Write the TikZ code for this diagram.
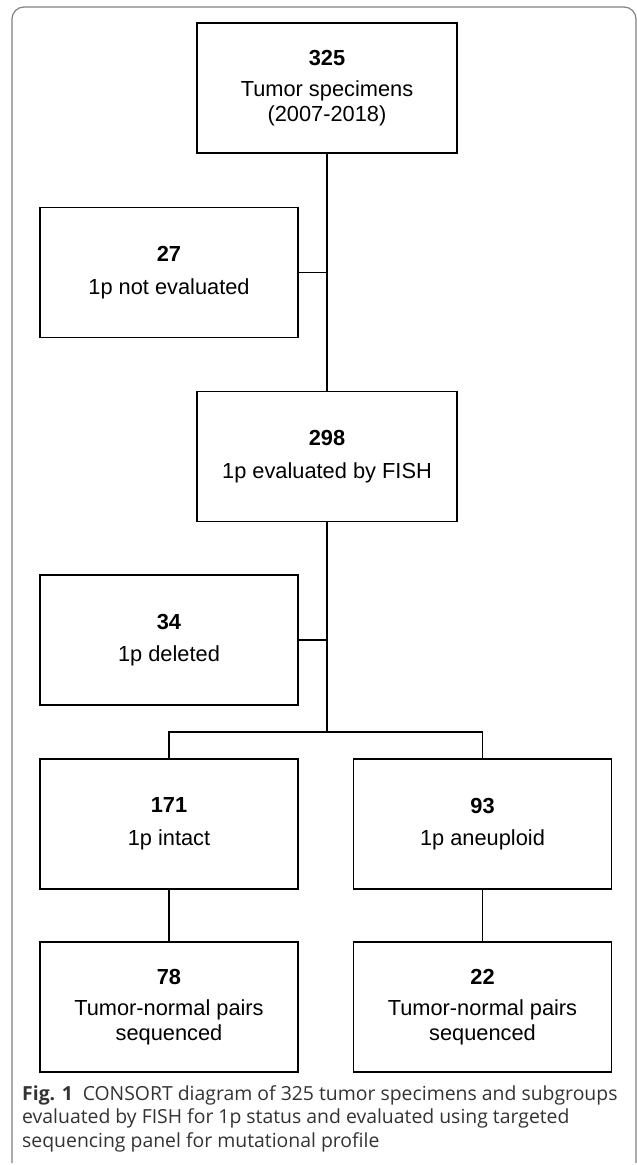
\documentclass[tikz,border=0pt]{standalone}
\usepackage{fontspec}
\setmainfont{Liberation Sans}
\newfontfamily\captfont{Open Sans}
\usepackage{tikz}
\usetikzlibrary{positioning}

\begin{document}
\begin{tikzpicture}[x=1pt,y=-1pt,
	box/.style={draw,line width=1.6pt,minimum width=258pt,minimum height=130pt,align=center,inner sep=0pt,font=\fontsize{21.8}{24.5}\selectfont},
	link/.style={line width=1.6pt}]
	\useasboundingbox (0,0) rectangle (637,1165);
	% outer frame
	\draw[gray,line width=1.2pt,rounded corners=12pt] (12,1163) -- (12,7) -- (636,7) -- (636,1163);
	
	\node[box,minimum width=260pt] (n325) at (327,88) {\textbf{325}\\[7pt]Tumor specimens\\(2007-2018)};
	\node[box] (n27) at (169,272.5) {\textbf{27}\\[8pt]1p not evaluated};
	\node[box,minimum width=260pt] (n298) at (327,456.5) {\textbf{298}\\[8pt]1p evaluated by FISH};
	\node[box] (n34) at (169,640) {\textbf{34}\\[8pt]1p deleted};
	\node[box] (n171) at (169,824) {\textbf{171}\\[8pt]1p intact};
	\node[box] (n93) at (482.5,824) {\textbf{93}\\[8pt]1p aneuploid};
	\node[box] (n78) at (169,1007) {\textbf{78}\\[7pt]Tumor-normal pairs\\sequenced};
	\node[box] (n22) at (482.5,1007) {\textbf{22}\\[7pt]Tumor-normal pairs\\sequenced};
	\coordinate (split) at (327,732);
	
	\draw[link] (n325.south) -- (n298.north);
	\draw[link] (n27.east) -- (n27.east -| n325.south);
	\draw[link] (n298.south) -- (split);
	\draw[link] (n34.east) -- (n34.east -| split);
	\draw[link] (n171.north) |- (split) -| (n93.north);
	\draw[link] (n171.south) -- (n78.north);
	\draw[link] (n93.south) -- (n22.north);
	
	\node[anchor=north west,align=left,inner sep=0pt,text=black!80,font=\captfont\fontsize{19.4}{23.5}\selectfont] (capt) at (22,1085)
		{\textbf{Fig. 1}\enspace CONSORT diagram of 325 tumor specimens and subgroups\\
		evaluated by FISH for 1p status and evaluated using targeted\\
		sequencing panel for mutational profile};
\end{tikzpicture}
\end{document}
